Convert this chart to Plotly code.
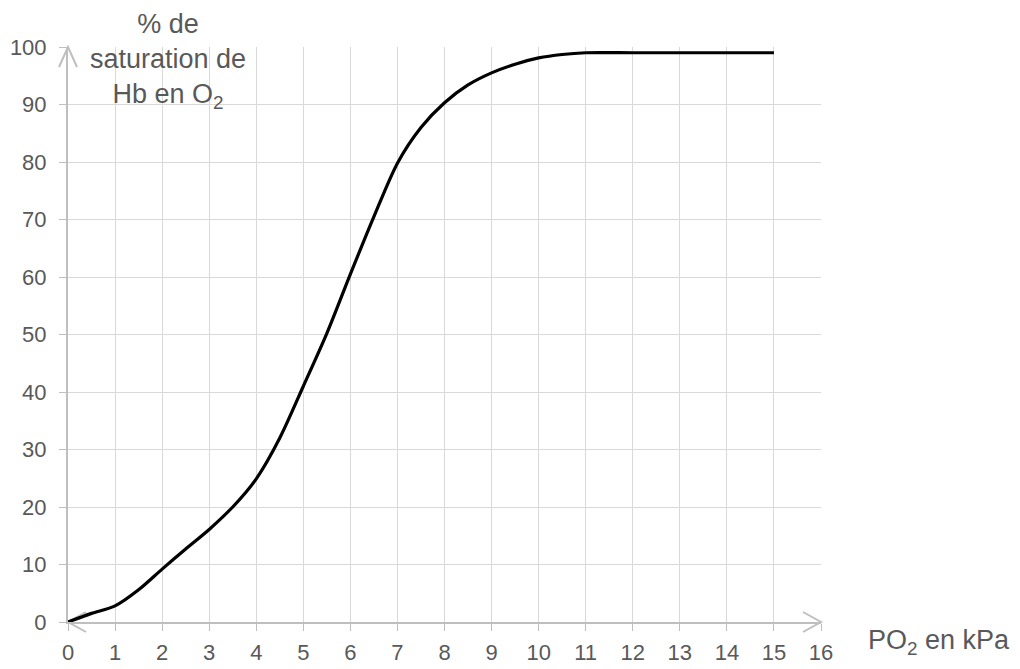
import plotly.graph_objects as go

po2_kpa = [0, 0.5, 1, 1.5, 2, 2.5, 3, 3.5, 4, 4.5, 5, 5.5, 6, 6.5, 7, 7.5, 8, 8.5, 9, 9.5, 10, 10.5, 11, 12, 13, 14, 15]
saturation = [0, 1.5, 2.8, 5.6, 9.2, 12.7, 16.1, 20, 24.9, 32, 41, 50.2, 60.5, 70.5, 79.8, 86, 90.3, 93.4, 95.5, 97, 98.1, 98.7, 99, 99, 99, 99, 99]

x_ticks = list(range(0, 17))
y_ticks = list(range(0, 101, 10))

FONT = "Liberation Sans, Arial, sans-serif"
TXT = "#595959"
AXIS = "#bfbfbf"
GRID = "#d9d9d9"

fig = go.Figure()
fig.add_trace(go.Scatter(
    x=po2_kpa, y=saturation, mode="lines",
    line=dict(color="black", width=3.2, shape="spline", smoothing=0.8),
    hoverinfo="skip", showlegend=False, cliponaxis=False,
))

fig.update_layout(
    width=1020, height=669,
    margin=dict(l=68, r=199, t=47, b=47),
    paper_bgcolor="white", plot_bgcolor="white",
    font=dict(family=FONT, color=TXT, size=22),
    xaxis=dict(range=[0, 16], tickvals=x_ticks, showgrid=True, gridcolor=GRID, gridwidth=1.4,
               showline=True, linecolor=AXIS, linewidth=2, zeroline=False, automargin=False,
               ticks="outside", ticklen=7, tickcolor=AXIS, tickwidth=1.4,
               tickfont=dict(size=22, color=TXT), ticklabelstandoff=3),
    yaxis=dict(range=[0, 100], tickvals=y_ticks, showgrid=True, gridcolor=GRID, gridwidth=1.4,
               showline=True, linecolor=AXIS, linewidth=2, zeroline=False, automargin=False,
               ticks="outside", ticklen=7, tickcolor=AXIS, tickwidth=1.4,
               tickfont=dict(size=22, color=TXT), ticklabelstandoff=8),
)

# arrowheads (open chevrons) in pixel units anchored at axis ends
arrow_style = dict(type="path", xsizemode="pixel", ysizemode="pixel", xref="paper", yref="paper",
                   line=dict(color=AXIS, width=2), layer="above")
fig.add_shape(xanchor=1, yanchor=0, path="M -18 10 L 0 0 L -18 -10", **arrow_style)
fig.add_shape(xanchor=0, yanchor=1, path="M -9 -20 L 0 0 L 9 -20", **arrow_style)
fig.add_shape(xanchor=0, yanchor=0, path="M 18 10 L 0 0 L 18 -10", **dict(arrow_style, layer="below"))

fig.add_annotation(x=2.12 / 16, y=0.975, xref="paper", yref="paper", showarrow=False,
                   text="% de<br>saturation de<br>Hb en O<sub>2</sub>",
                   font=dict(size=27, color=TXT, family=FONT), align="center",
                   xanchor="center", yanchor="middle")
fig.add_annotation(x=18.5 / 16, y=-0.035, xref="paper", yref="paper", showarrow=False,
                   text="PO<sub>2</sub> en kPa",
                   font=dict(size=27, color=TXT, family=FONT),
                   xanchor="center", yanchor="middle")

fig.write_html("out.html", config={"displayModeBar": False},
               post_script="document.body.style.margin='0';")
